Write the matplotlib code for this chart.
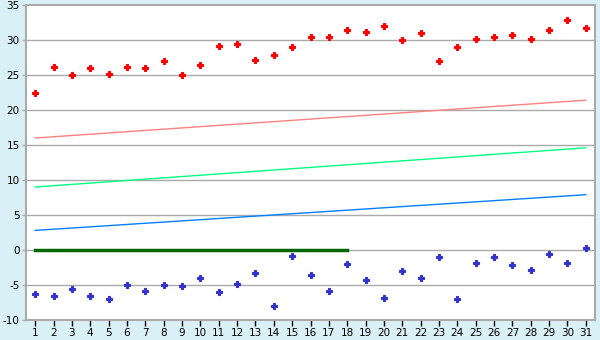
import matplotlib.pyplot as plt
import numpy as np

plt.rcParams['axes.unicode_minus'] = False

days = list(range(1, 32))

high = [22.4, 26.1, 25.0, 26.0, 25.2, 26.1, 26.0, 27.0, 25.0, 26.4,
        29.1, 29.4, 27.1, 27.8, 29.0, 30.4, 30.4, 31.4, 31.2, 32.0,
        30.0, 31.0, 27.0, 29.0, 30.2, 30.4, 30.7, 30.2, 31.5, 32.8, 31.7]
low = [-6.3, -6.6, -5.6, -6.6, -7.0, -5.0, -5.8, -5.0, -5.2, -4.0,
       -6.0, -4.8, -3.3, -8.0, -0.8, -3.6, -5.8, -2.0, -4.3, -6.8,
       -3.0, -4.0, -1.0, -7.0, -1.8, -1.0, -2.2, -2.8, -0.6, -1.9, 0.3]

# trend lines: value at day 1 and day 31
trend_x = [1, 31]
trend_pink = [16.0, 21.4]
trend_green = [9.0, 14.6]
trend_blue = [2.8, 7.9]

zero_x = [1, 18]
zero_y = [0, 0]

bg = '#daf0f7'
grid_c = '#aaaaaa'

fig = plt.figure(figsize=(6, 3.4), dpi=100, facecolor=bg)
ax = fig.add_axes([26 / 600, 1 - 320 / 340, 569 / 600, 315 / 340])
ax.set_facecolor('white')

for y in range(-5, 35, 5):
    ax.axhline(y, color=grid_c, lw=1, zorder=1)

ax.plot(trend_x, trend_pink, color='#ff8080', lw=1, zorder=2)
ax.plot(trend_x, trend_green, color='#00ff80', lw=1, zorder=2)
ax.plot(trend_x, trend_blue, color='#0080ff', lw=1, zorder=2)
ax.plot(zero_x, zero_y, color='#006600', lw=2.5, zorder=3)

ax.plot(days, high, ls='none', marker='P', ms=4.5, color='#ff0000',
        markeredgewidth=0.8, zorder=4)
ax.plot(days, low, ls='none', marker='P', ms=4.5, color='#3333cc',
        markeredgewidth=0.8, zorder=4)

ax.set_xlim(0.5, 31.5)
ax.set_ylim(-10, 35)
ax.set_xticks(days)
ax.set_yticks(range(-10, 40, 5))

for s in ax.spines.values():
    s.set_color(grid_c)
    s.set_linewidth(1.5)

ax.tick_params(axis='both', colors='black', labelsize=7.5, length=4,
               width=1, direction='out', pad=1.5)
ax.tick_params(axis='x', color='black')
ax.tick_params(axis='y', color=grid_c, length=3)

fig.savefig('out.png', dpi=100, facecolor=bg)
